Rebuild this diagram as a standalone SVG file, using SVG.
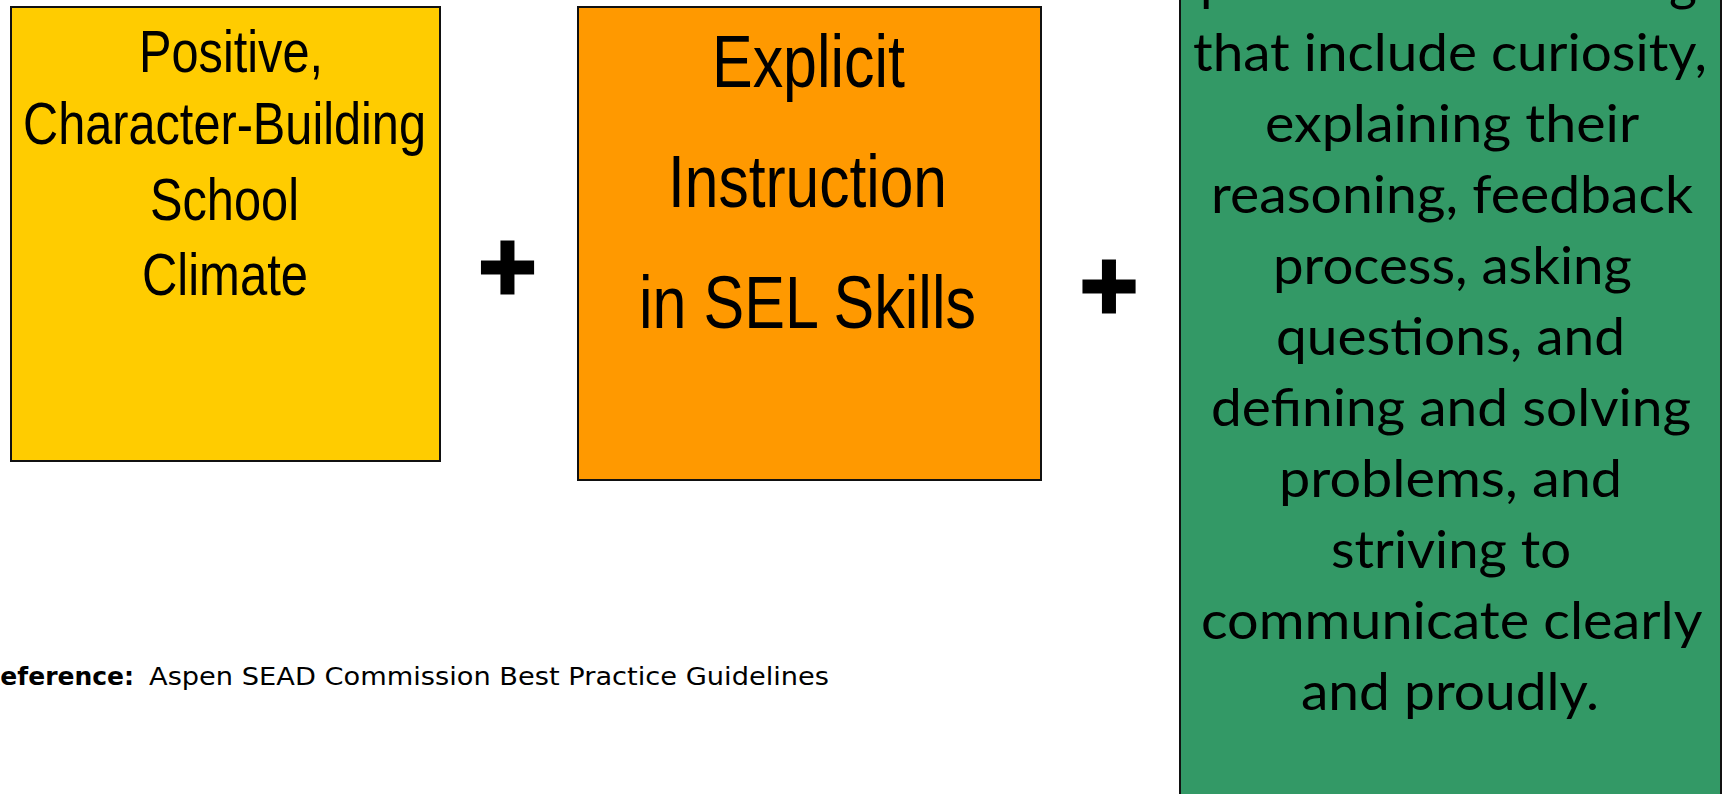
<svg xmlns="http://www.w3.org/2000/svg" width="1727" height="794" viewBox="0 0 1727 794">
<style>
.box{stroke:#111;stroke-width:2}
.narrow{font-family:"Liberation Sans",Arial,sans-serif;fill:#000}
.green{font-family:Lato,"Open Sans",sans-serif;font-size:53px;fill:#000}
.plus{font-family:"Liberation Sans",Arial,sans-serif;font-weight:bold;font-size:100px;fill:#000;stroke:#000;stroke-width:3;text-anchor:middle}
.foot{font-family:"DejaVu Sans",Verdana,sans-serif;font-size:25px;fill:#000}
</style>
<rect width="1727" height="794" fill="#fff"/>
<g id="climate">
<rect class="box" x="11" y="7" width="429" height="454" fill="#FFCC00"/>
<text class="narrow" font-size="59">
<tspan x="139" y="72" textLength="184" lengthAdjust="spacingAndGlyphs">Positive,</tspan>
<tspan x="23" y="144" textLength="403" lengthAdjust="spacingAndGlyphs">Character-Building</tspan>
<tspan x="150" y="220" textLength="149" lengthAdjust="spacingAndGlyphs">School</tspan>
<tspan x="142" y="295" textLength="166" lengthAdjust="spacingAndGlyphs">Climate</tspan>
</text>
</g>
<g id="plus1"><text class="plus" x="507.5" y="301">+</text></g>
<g id="instruction">
<rect class="box" x="578" y="7" width="463" height="473" fill="#FF9900"/>
<text class="narrow" font-size="75">
<tspan x="712" y="87" textLength="193" lengthAdjust="spacingAndGlyphs">Explicit</tspan>
<tspan x="668" y="207" textLength="279" lengthAdjust="spacingAndGlyphs">Instruction</tspan>
<tspan x="639" y="328" textLength="337" lengthAdjust="spacingAndGlyphs">in SEL Skills</tspan>
</text>
</g>
<g id="plus2"><text class="plus" x="1109" y="320">+</text></g>
<g id="practices">
<rect class="box" x="1180" y="-10" width="541" height="820" fill="#339966"/>
<text class="green">
<tspan x="1200" y="0" textLength="497" lengthAdjust="spacingAndGlyphs">processes of thinking</tspan>
<tspan x="1193" y="71" textLength="514" lengthAdjust="spacingAndGlyphs">that include curiosity,</tspan>
<tspan x="1265" y="142" textLength="373" lengthAdjust="spacingAndGlyphs">explaining their</tspan>
<tspan x="1211" y="213" textLength="482" lengthAdjust="spacingAndGlyphs">reasoning, feedback</tspan>
<tspan x="1273" y="284" textLength="359" lengthAdjust="spacingAndGlyphs">process, asking</tspan>
<tspan x="1276" y="355" textLength="349" lengthAdjust="spacingAndGlyphs">questions, and</tspan>
<tspan x="1211" y="426" textLength="480" lengthAdjust="spacingAndGlyphs">defining and solving</tspan>
<tspan x="1279" y="497" textLength="343" lengthAdjust="spacingAndGlyphs">problems, and</tspan>
<tspan x="1331" y="568" textLength="240" lengthAdjust="spacingAndGlyphs">striving to</tspan>
<tspan x="1201" y="639" textLength="500" lengthAdjust="spacingAndGlyphs">communicate clearly</tspan>
<tspan x="1301" y="710" textLength="298" lengthAdjust="spacingAndGlyphs">and proudly.</tspan>
</text>
</g>
<g id="footer">
<text class="foot" x="134" y="685" font-weight="bold" text-anchor="end">Reference:</text>
<text class="foot" x="149" y="685" textLength="680" lengthAdjust="spacingAndGlyphs">Aspen SEAD Commission Best Practice Guidelines</text>
</g>
</svg>
